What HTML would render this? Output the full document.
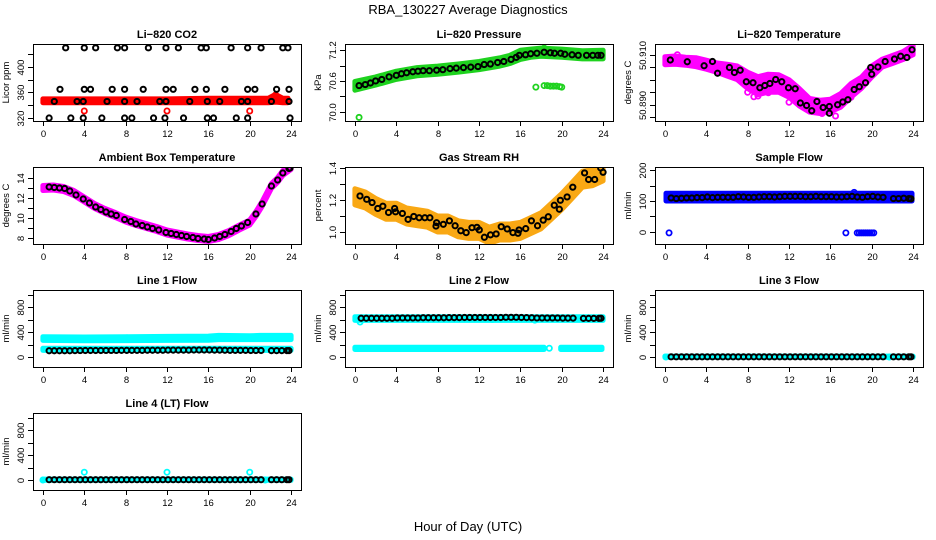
<!DOCTYPE html>
<html><head><meta charset="utf-8"><style>
html,body{margin:0;padding:0;background:#fff;}
svg{display:block;font-family:"Liberation Sans",sans-serif;}
</style></head><body>
<svg id="chart" width="936" height="540" viewBox="0 0 936 540">
<text x="468" y="14" text-anchor="middle" font-size="13">RBA_130227  Average Diagnostics</text>
<text x="468" y="531" text-anchor="middle" font-size="13">Hour of Day (UTC)</text>
</svg>
<script>
// ---- shared data ----
const xTicks = [0,4,8,12,16,20,24];
const flowT = [0.6,1.1,1.6,2.1,2.6,3.1,3.6,4.1,4.6,5.1,5.6,6.1,6.6,7.1,7.6,8.1,8.6,9.1,9.6,10.1,10.6,11.1,11.6,12.1,12.6,13.1,13.6,14.1,14.6,15.1,15.6,16.1,16.6,17.1,17.6,18.1,18.6,19.1,19.6,20.1,20.6,21.1,22.1,22.6,23.1,23.6,23.8];

// CO2
const co2BandT = [0,4,8,12,16,20,21.8,22.5,23.2,23.7];
const co2BandLo = [344,344,344,344,344,344,344,345,344,344];
const co2BandHi = [350,350,350,350,351,351,351,357,351,351];
const co2RedT = [4,12,20,22.5];
const co2RedV = [331,331,331,356];
const co2T = [2.2,4.0,5.1,7.2,7.9,10.2,11.9,13.1,15.3,15.8,18.2,19.8,21.1,23.2,23.7,
  1.65,4.0,4.6,6.7,7.9,9.7,11.9,12.6,14.7,15.8,17.6,19.8,20.5,22.6,23.8,
  1.1,3.3,3.9,6.2,7.9,9.1,11.3,11.9,14.2,15.9,17.1,19.2,19.8,22.1,23.8,
  0.6,2.7,3.9,5.7,7.9,8.6,10.7,11.8,13.6,15.9,16.5,18.7,19.8,23.9];
const co2V = [430,430,430,430,430,430,430,430,430,430,430,430,430,430,430,
  365,365,365,365,365,365,365,365,365,365,365,365,365,365,365,
  346,346,346,346,346,346,346,346,346,346,346,346,346,346,346,
  320,320,320,320,320,320,320,320,320,320,320,320,320,320];
const co2Ticks = [320,340,360,380,400,420];
const co2Labels = ["320","","360","","400",""];

// Pressure
const presBandT = [0,2,4,6,8,10,12,14,15,16,17,18,20,22,24];
const presBandLo = [70.42,70.52,70.63,70.70,70.73,70.77,70.82,70.89,70.94,71.02,71.06,71.08,71.06,71.03,71.03];
const presBandHi = [70.59,70.68,70.79,70.86,70.89,70.93,70.98,71.05,71.10,71.20,71.22,71.24,71.22,71.19,71.20];
const presExtraT = [0.4,17.5,18.3,18.6,18.9,19.2,19.5,19.8,20.0,18.3];
const presExtraV = [69.89,70.48,70.51,70.51,70.50,70.50,70.50,70.49,70.48,71.24];
const presT = [0.4,1.0,1.5,2.0,2.6,3.3,4.0,4.5,5.0,5.6,6.1,6.6,7.2,7.9,8.5,9.2,9.8,10.5,11.2,11.9,12.5,13.1,13.8,14.4,15.1,15.6,15.9,16.5,17.0,17.6,18.3,18.9,19.3,19.9,20.3,21.0,21.6,22.4,23.0,23.5,23.8];
const presV = [70.51,70.53,70.56,70.60,70.63,70.68,70.71,70.74,70.76,70.78,70.79,70.80,70.80,70.81,70.82,70.84,70.85,70.86,70.87,70.88,70.92,70.93,70.96,70.98,71.02,71.06,71.10,71.11,71.13,71.14,71.16,71.15,71.14,71.14,71.12,71.11,71.10,71.10,71.10,71.10,71.10];
const presTicks = [70.0,70.3,70.6,70.9,71.2];
const presLabels = ["70.0","","70.6","","71.2"];

// Li-820 temperature
const tmpBandT = [0,1,2,3,4,5,6,7,8,9,10,11,12,13,14,15,16,17,18,19,20,21,22,23,24];
const tmpBandLo = [50.9060,50.9062,50.9058,50.9052,50.9042,50.9030,50.9015,50.9000,50.8965,50.8940,50.8950,50.8950,50.8930,50.8895,50.8870,50.8865,50.8872,50.8890,50.8930,50.8965,50.9010,50.9050,50.9065,50.9080,50.9100];
const tmpBandHi = [50.9092,50.9095,50.9090,50.9088,50.9078,50.9068,50.9062,50.9055,50.9030,50.9012,50.9022,50.9020,50.9000,50.8965,50.8925,50.8918,50.8922,50.8945,50.8985,50.9010,50.9055,50.9082,50.9097,50.9112,50.9138];
const tmpExtraT = [1.2,8.0,8.6,9.0,10.0,12.0,13.0,15.2,16.5,18.0];
const tmpExtraV = [50.9100,50.8950,50.8932,50.8935,50.8948,50.8910,50.8905,50.8865,50.8855,50.8930];
const tmpT = [0.52,2.16,3.79,4.6,5.09,6.24,6.72,7.28,7.87,8.52,9.18,9.66,10.15,10.71,11.3,11.95,12.6,13.1,13.7,14.2,14.7,15.3,15.9,15.9,16.7,17.2,17.7,18.3,18.8,19.4,19.9,20.0,20.6,21.3,22.2,22.8,23.4,23.9];
const tmpV = [50.9079,50.9072,50.9056,50.9073,50.9026,50.9049,50.9029,50.9038,50.8992,50.8988,50.8968,50.8977,50.8985,50.9001,50.8992,50.8968,50.8964,50.8907,50.8897,50.8876,50.8913,50.8889,50.8893,50.8866,50.8900,50.8911,50.8920,50.8961,50.8972,50.8988,50.9049,50.9022,50.9051,50.9073,50.9083,50.9094,50.9089,50.9120];
const tmpTicks = [50.885,50.890,50.895,50.900,50.905,50.910];
const tmpLabels = ["","50.890","","","","50.910"];

// Ambient box temperature
const ambBandT = [0,1,2,3,4,5,6,7,8,9,10,11,12,13,14,15,16,17,18,19,20,20.6,21.2,22.1,22.7,23.2,24];
const ambBandLo = [12.75,12.8,12.65,12.25,11.6,10.95,10.45,10.05,9.6,9.25,8.95,8.65,8.3,8.1,7.9,7.75,7.65,7.85,8.25,8.8,9.3,10.15,11.15,12.95,13.55,14.25,14.85];
const ambBandHi = [13.25,13.3,13.15,12.75,12.1,11.45,10.95,10.55,10.1,9.75,9.45,9.15,8.8,8.6,8.4,8.25,8.15,8.35,8.75,9.3,9.8,10.65,11.65,13.45,14.05,14.75,15.35];
const ambT = [0.6,1.1,1.6,2.1,2.6,3.2,3.9,4.5,5.1,5.6,6.1,6.6,7.1,7.9,8.5,9.0,9.6,10.1,10.6,11.2,11.9,12.4,12.9,13.4,13.9,14.5,15.0,15.6,16.0,16.6,17.1,17.6,18.2,18.7,19.2,19.8,20.6,21.2,22.1,22.7,23.2,23.8,23.9];
const ambV = [13.1,13.05,13.0,12.95,12.7,12.3,11.9,11.5,11.1,10.85,10.6,10.4,10.25,9.85,9.65,9.4,9.25,9.1,8.95,8.8,8.55,8.45,8.35,8.25,8.15,8.05,7.95,7.9,7.85,8.0,8.15,8.35,8.65,8.95,9.2,9.55,10.4,11.4,13.2,13.8,14.5,14.95,15.0];
const ambTicks = [8,9,10,11,12,13,14];
const ambLabels = ["8","","10","","12","","14"];

// Gas stream RH
const rhBandT = [0,1,2,3,4,5,6,7,8,9,10,11,12,13,14,15,16,17,18,19,20,21,22,23,24];
const rhBandLo = [1.17,1.15,1.11,1.08,1.08,1.05,1.04,1.03,1.00,1.00,0.97,0.96,0.96,0.93,0.95,0.95,0.96,0.99,1.02,1.08,1.14,1.21,1.28,1.29,1.32];
const rhBandHi = [1.27,1.25,1.21,1.18,1.18,1.15,1.14,1.13,1.10,1.10,1.07,1.06,1.06,1.03,1.05,1.05,1.06,1.09,1.12,1.18,1.24,1.31,1.38,1.39,1.42];
const rhT = [0.49,1.14,1.66,2.21,2.70,3.25,3.84,3.93,4.59,5.14,5.69,6.21,6.76,7.25,7.84,7.90,8.55,9.14,9.69,10.24,10.76,11.32,11.80,12.03,12.52,13.11,13.66,14.15,14.73,15.28,15.77,15.87,16.52,17.07,17.66,18.21,18.70,19.28,19.77,19.87,20.52,21.07,22.21,22.60,23.19,23.77,24.0];
const rhV = [1.225,1.204,1.184,1.147,1.161,1.122,1.147,1.126,1.116,1.079,1.097,1.089,1.089,1.089,1.037,1.058,1.048,1.070,1.039,1.008,0.996,1.027,1.029,1.013,0.967,0.982,0.988,1.033,1.019,0.996,0.992,1.013,1.021,1.070,1.039,1.074,1.095,1.167,1.142,1.198,1.219,1.280,1.369,1.328,1.328,1.400,1.373];
const rhTicks = [1.0,1.1,1.2,1.3,1.4];
const rhLabels = ["1.0","","1.2","","1.4"];

// Sample flow
const sfBandT = [0.1,23.9];
const sfBandLo = [100,100];
const sfBandHi = [125,125];
const sfExtraT = [0.4,17.5,18.6,18.8,19.0,19.2,19.4,19.6,19.8,20.0,20.2,18.3];
const sfExtraV = [-3,-3,-3,-3,-3,-3,-3,-3,-3,-3,-3,128];
const sfV = [110,108,109,110,110,111,111,113,111,112,112,112,112,114,113,112,112,113,114,114,113,114,115,115,115,115,114,114,115,114,114,114,113,113,114,115,113,112,114,115,113,112,108,108,109,108,107];
const sfTicks = [0,50,100,150,200];
const sfLabels = ["0","","100","","200"];

// Flow axis
const flowTicks = [0,200,400,600,800,1000];
const flowLabels = ["0","","400","","800",""];

// Line 1
const l1UpT = [0,4,8,12,16,17,20,21,24];
const l1UpLo = [265,260,262,265,268,278,278,278,278];
const l1UpHi = [325,320,325,330,335,345,340,345,345];
const l1LowT = [0,24];
const l1LowLo = [105,105];
const l1LowHi = [140,140];
const l1V = [100,100,100,100,100,102,103,104,104,104,104,105,105,105,106,106,106,106,106,108,108,108,108,110,110,110,110,110,112,112,112,112,110,110,108,106,106,106,106,104,104,104,102,102,102,102,102];

// Line 2
const l2UpT = [0,24];
const l2UpLo = [585,585];
const l2UpHi = [645,645];
const l2LowAT = [0,18.3];
const l2LowALo = [120,120];
const l2LowAHi = [155,155];
const l2LowBT = [19.9,23.9];
const l2LowBLo = [120,120];
const l2LowBHi = [155,155];
const l2ExtraT = [0.5,18.8,13.3,17.4];
const l2ExtraV = [560,140,600,590];
const l2V = [620,620,620,620,620,620,620,625,625,625,625,625,628,628,628,628,628,630,630,630,632,632,632,632,632,632,632,632,635,635,635,632,630,628,625,625,625,625,625,622,622,622,618,618,618,618,620];

// Line 3
const l3BandT = [0,24];
const l3BandLo = [-5,-5];
const l3BandHi = [15,15];
const l3ExtraT = [0.1,21.7];
const l3ExtraV = [0,0];
const l3V = [3,3,3,3,3,3,3,3,3,3,3,3,3,3,3,3,3,3,3,3,3,3,3,3,3,3,3,3,3,3,3,3,3,3,3,3,3,3,3,3,3,3,3,3,3,3,3];

// Line 4
const l4BandT = [0,24];
const l4BandLo = [-5,-5];
const l4BandHi = [15,15];
const l4ExtraT = [0,4,12,20,21.5];
const l4ExtraV = [0,125,125,125,0];
const l4V = [5,5,5,5,5,5,5,5,5,5,5,5,5,5,5,5,5,5,5,5,5,5,5,5,5,5,5,5,5,5,5,5,5,5,5,5,5,5,5,5,5,5,5,5,5,5,5];

// ---- drawing ----
const NS = "http://www.w3.org/2000/svg";
const svg = document.getElementById("chart");
const W = 268, H = 77;
function mk(tag, attrs, parent){
  const e = document.createElementNS(NS, tag);
  for (const k in attrs) e.setAttribute(k, attrs[k]);
  (parent||svg).appendChild(e);
  return e;
}
function panel(p){
  const g = mk("g", {});
  
  
  const xs = t => p.left + (t + 0.96) / 25.92 * W;
  const ys = v => p.top + H - (v - p.ymin) / (p.ymax - p.ymin) * H;
  const clipId = "c" + p.name;
  const cp = mk("clipPath", {id: clipId}, g);
  mk("rect", {x: p.left, y: p.top, width: W, height: H}, cp);
  const plot = mk("g", {"clip-path": "url(#" + clipId + ")"}, g);
  (p.bands||[]).forEach(b => {
    let d = "";
    b.t.forEach((t,i) => { d += (i ? "L" : "M") + xs(t).toFixed(1) + "," + ys(b.hi[i]).toFixed(1); });
    for (let i = b.t.length - 1; i >= 0; i--) d += "L" + xs(b.t[i]).toFixed(1) + "," + ys(b.lo[i]).toFixed(1);
    d += "Z";
    const path = mk("path", {d: d, fill: p.color, stroke: p.color, "stroke-width": 5, "stroke-linejoin": "round"}, plot);
    
    
  });
  (p.extraT||[]).forEach((t,i) => {
    const c = mk("circle", {cx: xs(t), cy: ys(p.extraV[i]), r: 2.6, fill: "none", stroke: p.color, "stroke-width": 1.8}, plot);
    
    
  });
  p.bT.forEach((t,i) => {
    const c = mk("circle", {cx: xs(t), cy: ys(p.bV[i]), r: 2.6, fill: "none", stroke: "#000", "stroke-width": 2}, plot);
    
    
  });
  const box = mk("rect", {x: p.left + 0.5, y: p.top + 0.5, width: W, height: H, fill: "none", stroke: "#000", "stroke-width": 1}, g);
  
  
  xTicks.forEach(t => {
    const x = Math.round(xs(t)) + 0.5;
    mk("line", {x1: x, x2: x, y1: p.top + H, y2: p.top + H + 5, stroke: "#000"}, g);
    const tx = mk("text", {x: x, y: p.top + H + 16, "text-anchor": "middle", "font-size": 9.5}, g);
    tx.textContent = t;
    
    
  });
  p.ticks.forEach((v,i) => {
    const y = Math.round(ys(v)) + 0.5;
    if (y < p.top - 1 || y > p.top + H + 1) return;
    mk("line", {x1: p.left - 5, x2: p.left, y1: y, y2: y, stroke: "#000"}, g);
    if (p.labels[i]) {
      const tx = mk("text", {x: p.left - 9, y: y, "text-anchor": "middle", "font-size": 9.5, transform: "rotate(-90 " + (p.left - 9) + " " + y + ")"}, g);
      tx.textContent = p.labels[i];
      
      
    }
  });
  const yt = mk("text", {x: p.left - 24, y: p.top + H/2, "text-anchor": "middle", "font-size": 9.5, transform: "rotate(-90 " + (p.left - 24) + " " + (p.top + H/2) + ")"}, g);
  yt.textContent = p.ylab;
  
  
  const ti = mk("text", {x: p.left + W/2, y: p.top - 6, "text-anchor": "middle", "font-size": 11, "font-weight": "bold"}, g);
  ti.textContent = p.title;
  
  
}
const C1 = 33, C2 = 345, C3 = 655;
const R1 = 44, R2 = 167, R3 = 290, R4 = 413;
panel({name:"co2-panel", title:"Li\u2212820 CO2", ylab:"Licor ppm", left:C1, top:R1, ymin:315.3, ymax:436, color:"#ff0000",
  bands:[{t:co2BandT, lo:co2BandLo, hi:co2BandHi}], extraT:co2RedT, extraV:co2RedV, bT:co2T, bV:co2V, ticks:co2Ticks, labels:co2Labels});
panel({name:"pressure-panel", title:"Li\u2212820 Pressure", ylab:"kPa", left:C2, top:R1, ymin:69.82, ymax:71.32, color:"#1ed21e",
  bands:[{t:presBandT, lo:presBandLo, hi:presBandHi}], extraT:presExtraT, extraV:presExtraV, bT:presT, bV:presV, ticks:presTicks, labels:presLabels});
panel({name:"li820-temperature-panel", title:"Li\u2212820 Temperature", ylab:"degrees C", left:C3, top:R1, ymin:50.8835, ymax:50.9143, color:"#ff00ff",
  bands:[{t:tmpBandT, lo:tmpBandLo, hi:tmpBandHi}], extraT:tmpExtraT, extraV:tmpExtraV, bT:tmpT, bV:tmpV, ticks:tmpTicks, labels:tmpLabels});
panel({name:"ambient-temperature-panel", title:"Ambient Box Temperature", ylab:"degrees C", left:C1, top:R2, ymin:7.4, ymax:15.1, color:"#ff00ff",
  bands:[{t:ambBandT, lo:ambBandLo, hi:ambBandHi}], bT:ambT, bV:ambV, ticks:ambTicks, labels:ambLabels});
panel({name:"rh-panel", title:"Gas Stream RH", ylab:"percent", left:C2, top:R2, ymin:0.925, ymax:1.406, color:"#f9a814",
  bands:[{t:rhBandT, lo:rhBandLo, hi:rhBandHi}], bT:rhT, bV:rhV, ticks:rhTicks, labels:rhLabels});
panel({name:"sample-flow-panel", title:"Sample Flow", ylab:"ml/min", left:C3, top:R2, ymin:-39, ymax:210, color:"#0000ff",
  bands:[{t:sfBandT, lo:sfBandLo, hi:sfBandHi}], extraT:sfExtraT, extraV:sfExtraV, bT:flowT, bV:sfV, ticks:sfTicks, labels:sfLabels});
panel({name:"line1-flow-panel", title:"Line 1 Flow", ylab:"ml/min", left:C1, top:R3, ymin:-160, ymax:1072, color:"#00ffff",
  bands:[{t:l1UpT, lo:l1UpLo, hi:l1UpHi},{t:l1LowT, lo:l1LowLo, hi:l1LowHi}], bT:flowT, bV:l1V, ticks:flowTicks, labels:flowLabels});
panel({name:"line2-flow-panel", title:"Line 2 Flow", ylab:"ml/min", left:C2, top:R3, ymin:-160, ymax:1072, color:"#00ffff",
  bands:[{t:l2UpT, lo:l2UpLo, hi:l2UpHi},{t:l2LowAT, lo:l2LowALo, hi:l2LowAHi},{t:l2LowBT, lo:l2LowBLo, hi:l2LowBHi}], extraT:l2ExtraT, extraV:l2ExtraV, bT:flowT, bV:l2V, ticks:flowTicks, labels:flowLabels});
panel({name:"line3-flow-panel", title:"Line 3 Flow", ylab:"ml/min", left:C3, top:R3, ymin:-160, ymax:1072, color:"#00ffff",
  bands:[{t:l3BandT, lo:l3BandLo, hi:l3BandHi}], extraT:l3ExtraT, extraV:l3ExtraV, bT:flowT, bV:l3V, ticks:flowTicks, labels:flowLabels});
panel({name:"line4-flow-panel", title:"Line 4 (LT) Flow", ylab:"ml/min", left:C1, top:R4, ymin:-160, ymax:1072, color:"#00ffff",
  bands:[{t:l4BandT, lo:l4BandLo, hi:l4BandHi}], extraT:l4ExtraT, extraV:l4ExtraV, bT:flowT, bV:l4V, ticks:flowTicks, labels:flowLabels});
</script>
</body></html>
